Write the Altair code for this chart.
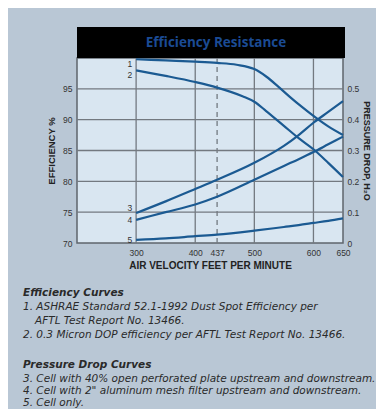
import altair as alt
import pandas as pd

# ---- data ----
eff_x = [300, 350, 400, 437, 470, 500, 520, 540, 560, 580, 600, 625, 650]
eff1 = [99.8, 99.6, 99.4, 99.2, 98.9, 98.2, 97.0, 95.4, 93.7, 92.1, 90.6, 88.9, 87.5]
eff2_x = [300, 350, 400, 437, 480, 500, 520, 550, 575, 600, 625, 650]
eff2 = [98.0, 97.1, 96.1, 95.2, 93.8, 92.9, 91.4, 89.0, 87.0, 85.2, 83.0, 80.7]

pd_x = [300, 350, 400, 437, 500, 550, 575, 600, 625, 650]
pd3 = [0.097, 0.135, 0.175, 0.205, 0.26, 0.315, 0.35, 0.39, 0.425, 0.46]
pd4 = [0.075, 0.10, 0.125, 0.15, 0.205, 0.25, 0.272, 0.295, 0.32, 0.345]
pd5 = [0.01, 0.015, 0.022, 0.027, 0.04, 0.052, 0.058, 0.065, 0.072, 0.08]

eff_labels = ["1", "2"]
eff_label_vals = [99.1, 97.2]
pd_labels = ["3", "4", "5"]
pd_label_vals = [0.113, 0.075, 0.01]

x_ticks = [300, 400, 437, 500, 600, 650]
x_grid = [300, 400, 500, 600]
x_dashed = [437]
eff_ticks = [70, 75, 80, 85, 90, 95]
eff_grid = [75, 80, 85, 90, 95]
pd_ticks = [0, 0.1, 0.2, 0.3, 0.4, 0.5]

title_text = "Efficiency Resistance"
notes_head1 = "Efficiency Curves"
notes_body1 = ["1. ASHRAE Standard 52.1-1992 Dust Spot Efficiency per",
               "AFTL Test Report No. 13466.",
               "2. 0.3 Micron DOP efficiency per AFTL Test Report No. 13466."]
notes_indent1 = [0, 12, 0]
notes_head2 = "Pressure Drop Curves"
notes_body2 = ["3. Cell with 40% open perforated plate upstream and downstream.",
               "4. Cell with 2\" aluminum mesh filter upstream and downstream.",
               "5. Cell only."]

# ---- tables ----
eff_df = pd.concat([
    pd.DataFrame({"x": eff_x, "y": eff1, "c": "1"}),
    pd.DataFrame({"x": eff2_x, "y": eff2, "c": "2"}),
])
pd_df = pd.concat([
    pd.DataFrame({"x": pd_x, "y": pd3, "c": "3"}),
    pd.DataFrame({"x": pd_x, "y": pd4, "c": "4"}),
    pd.DataFrame({"x": pd_x, "y": pd5, "c": "5"}),
])

W, H = 266, 185
FONT = "Liberation Sans"
LINE = "#1b5a92"
GRID = "#737980"
TXT = "#333333"

xscale = alt.Scale(domain=[200, 650], nice=False, zero=False)
xaxis = alt.Axis(values=x_ticks, grid=False, ticks=False, domain=False,
                 labelFontSize=8.5, labelColor=TXT, labelPadding=5, labelFont=FONT,
                 title="AIR VELOCITY FEET PER MINUTE", titleFontSize=10,
                 titleFont=FONT, titleFontWeight="bold", titleColor="#222222",
                 titlePadding=4, labelFlush=False, labelOverlap=False)
effscale = alt.Scale(domain=[70, 100], nice=False, zero=False)
pdscale = alt.Scale(domain=[0, 0.6], nice=False)

effaxis = alt.Axis(values=eff_ticks, grid=False, ticks=False, domain=False,
                   labelFontSize=8.5, labelColor=TXT, labelPadding=5, labelFont=FONT,
                   title="EFFICIENCY %", titleFontSize=9.5, titleFont=FONT,
                   titleFontWeight="bold", titleColor="#222222", titlePadding=6)
pdaxis = alt.Axis(values=pd_ticks, grid=False, ticks=False, domain=False, orient="right",
                  labelFontSize=8.5, labelColor=TXT, labelPadding=4, labelFont=FONT,
                  labelExpr="datum.value == 0 ? '0' : format(datum.value, '.1f')",
                  title="PRESSURE DROP, H₂O", titleFontSize=9, titleFont=FONT,
                  titleFontWeight="bold", titleColor="#222222", titlePadding=3,
                  titleAngle=90)

X = alt.X("x:Q", scale=xscale, axis=xaxis)

# grid
vgrid = alt.Chart(pd.DataFrame({"x": x_grid})).mark_rule(color=GRID, strokeWidth=1.3).encode(x=X)
vdash = alt.Chart(pd.DataFrame({"x": x_dashed})).mark_rule(
    color=GRID, strokeWidth=1.3, strokeDash=[5, 4]).encode(x=X)
hgrid = alt.Chart(pd.DataFrame({"y": eff_grid})).mark_rule(color=GRID, strokeWidth=1.3).encode(
    y=alt.Y("y:Q", scale=effscale, axis=effaxis))

eff_lines = alt.Chart(eff_df).mark_line(color=LINE, strokeWidth=2.2, interpolate="monotone").encode(
    x=X, y=alt.Y("y:Q", scale=effscale, axis=effaxis), detail="c:N")
eff_lab = alt.Chart(pd.DataFrame({"x": [300] * len(eff_labels), "y": eff_label_vals, "t": eff_labels})).mark_text(
    align="right", dx=-4, fontSize=8.5, font=FONT, color=TXT).encode(
    x=X, y=alt.Y("y:Q", scale=effscale, axis=effaxis), text="t:N")

# title box
tbox = alt.Chart(pd.DataFrame({"a": [0]})).mark_rect(color="#000000").encode(
    x=alt.value(0), x2=alt.value(W + 2), y=alt.value(-31), y2=alt.value(0))
ttext = alt.Chart(pd.DataFrame({"t": [title_text]})).mark_text(
    fontSize=13.5, font="Open Sans", fontWeight="bold", color="#1b4b94", baseline="middle").encode(
    x=alt.value(139), y=alt.value(-15), text="t:N")

# notes
note_layers = []
NFONT = "DejaVu Sans"
def add_note(txt, x, y, bold):
    note_layers.append(alt.Chart(pd.DataFrame({"t": [txt]})).mark_text(
        align="left", baseline="middle", fontSize=10.5, font=NFONT, fontStyle="italic",
        fontWeight="bold" if bold else "normal", color="#2a2a2a").encode(
        x=alt.value(x), y=alt.value(y), text="t:N"))

left = -54
add_note(notes_head1, left, 235, True)
for i, line in enumerate(notes_body1):
    add_note(line, left + notes_indent1[i], 249 + i * 14, False)
add_note(notes_head2, left, 307, True)
for i, line in enumerate(notes_body2):
    add_note(line, left, 321 + i * 12, False)

left_layer = alt.layer(vgrid, vdash, hgrid, eff_lines, eff_lab, tbox, ttext, *note_layers)

pd_lines = alt.Chart(pd_df).mark_line(color=LINE, strokeWidth=2.2, interpolate="monotone").encode(
    x=X, y=alt.Y("y:Q", scale=pdscale, axis=pdaxis), detail="c:N")
pd_lab = alt.Chart(pd.DataFrame({"x": [300] * len(pd_labels), "y": pd_label_vals, "t": pd_labels})).mark_text(
    align="right", dx=-4, fontSize=8.5, font=FONT, color=TXT).encode(
    x=X, y=alt.Y("y:Q", scale=pdscale, axis=pdaxis), text="t:N")
right_layer = alt.layer(pd_lines, pd_lab)

chart = alt.layer(left_layer, right_layer).resolve_scale(y="independent").properties(
    width=W, height=H,
    autosize=alt.AutoSizeParams(type="none"),
    padding={"left": 69, "top": 50, "right": 33, "bottom": 166},
    background="#b9c7d5",
).configure_view(stroke="#5f656c", strokeWidth=1.5, fill="#d9e6f1")

chart.save("out.html", embed_options={"renderer": "svg", "actions": False})
